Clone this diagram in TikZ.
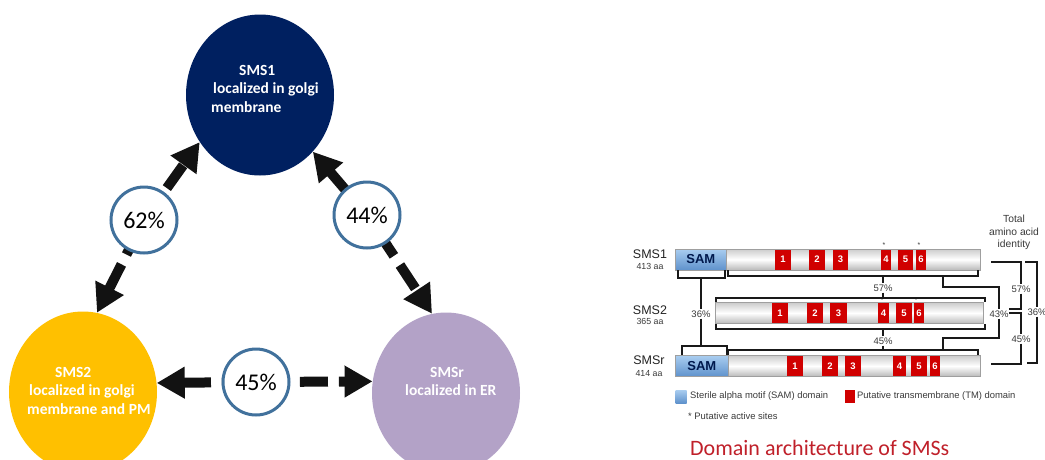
\documentclass[tikz,border=0pt]{standalone}
\usepackage{fontspec}
\setmainfont{Carlito}
\newfontfamily\figfont{Liberation Sans}
\usetikzlibrary{arrows.meta,shapes.geometric}
\definecolor{smsnavy}{HTML}{002060}
\definecolor{smsgold}{HTML}{FFC000}
\definecolor{smslilac}{HTML}{B3A2C7}
\definecolor{ringblue}{HTML}{41719C}
\definecolor{samhi}{HTML}{A9CDF0}
\definecolor{samlo}{HTML}{5F92CC}
\definecolor{tmred}{HTML}{D00000}
\definecolor{figgrey}{HTML}{3A3A3A}
\definecolor{titlered}{HTML}{C0202A}
\tikzset{
  bigcirc/.style  = {ellipse, minimum width=148pt, minimum height=161pt, inner sep=0pt},
  circtxt/.style  = {text=white, font=\fontsize{15.5}{18.5}\selectfont\bfseries, align=left,
                     inner sep=0pt, anchor=north west},
  biarrow/.style  = {{Triangle[length=28pt,width=30pt]}-{Triangle[length=28pt,width=30pt]},
                     line width=10pt, dash pattern=on 28pt off 11pt, draw=black!93},
  pct/.style      = {circle, draw=ringblue, line width=3pt, fill=white, minimum size=66pt,
                     inner sep=0pt, font=\fontsize{24}{24}\selectfont},
  bar/.style      = {rectangle, anchor=west, minimum height=21pt, inner sep=0pt, draw=gray!75,
                     line width=0.6pt, top color=gray!40, bottom color=gray!55, middle color=white},
  sam/.style      = {rectangle, anchor=west, minimum height=21pt, inner sep=0pt, draw=gray!75,
                     line width=0.6pt, top color=samhi, bottom color=samlo,
                     font=\figfont\bfseries\fontsize{13}{13}\selectfont, text=smsnavy!80!black},
  tm/.style       = {rectangle, minimum height=20pt, inner sep=0pt, fill=tmred, text=white,
                     font=\figfont\bfseries\fontsize{9.5}{9.5}\selectfont},
  brk/.style      = {line width=2pt, draw=black!90},
  pcttxt/.style   = {inner sep=1pt, text=figgrey, font=\figfont\fontsize{9.5}{9.5}\selectfont},
  protname/.style = {inner sep=0pt, text=figgrey!60!black, font=\figfont\fontsize{12.5}{12.5}\selectfont},
  aalen/.style    = {inner sep=0pt, text=figgrey, font=\figfont\fontsize{8.8}{8.8}\selectfont},
  legsq/.style    = {rectangle, minimum width=11pt, minimum height=13pt, inner sep=0pt},
  legtxt/.style   = {anchor=west, inner sep=0pt, text=figgrey, font=\figfont\fontsize{9.4}{9.4}\selectfont},
}
\begin{document}
\begin{tikzpicture}[x=1pt,y=-1pt]
  \useasboundingbox (0,0) rectangle (1045,459);
  \fill[white] (0,0) rectangle (1045,459);
  % localisation of the three synthases
  \node[bigcirc, fill=smsnavy] (sms1) at (260,95) {};
  \node[bigcirc, fill=smsgold] (sms2) at (83,392) {};
  \node[bigcirc, fill=smslilac] (smsr) at (446,393) {};
  \node[circtxt] (sms1txt) at ([xshift=-49pt,yshift=30pt]sms1.center) {\hspace*{28pt}SMS1\\\hspace*{2pt}localized in golgi\\membrane};
  \node[circtxt] (sms2txt) at ([xshift=-56pt,yshift=25pt]sms2.center) {\hspace*{28pt}SMS2\\\hspace*{2pt}localized in golgi\\membrane and PM};
  \node[circtxt] (smsrtxt) at ([xshift=-41pt,yshift=26pt]smsr.center) {\hspace*{25pt}SMSr\\localized in ER};
  % identity arrows (the rings sit on top)
  \coordinate (c62) at (144,220);
  \coordinate (c44) at (367,215);
  \coordinate (c45) at (256,382);
  \draw[biarrow] (sms2.80) -- (c62) -- (sms1.218);
  \draw[biarrow] (sms1.313) -- (c44) -- (smsr.100);
  \draw[biarrow] (sms2.7) -- (c45) -- (smsr.171);
  \node[pct] (p62) at (c62) {62\%};
  \node[pct] (p44) at (c44) {44\%};
  \node[pct] (p45) at (c45) {45\%};

  % domain architecture: protein bars
  \node[bar, minimum width=305pt] (bar1) at (675,259.5) {};
  \node[bar, minimum width=268pt] (bar2) at (715,313) {};
  \node[bar, minimum width=305pt] (bar3) at (675,366) {};
  \node[sam, minimum width=51pt] (sam1) at (675,259.5) {SAM};
  \node[sam, minimum width=53pt] (sam3) at (675,366) {SAM};
  \foreach \n/\x/\w in {1/783/16,2/817/16,3/840.5/15,4/886/10,5/905.5/15,6/921/10}
    \node[tm, minimum width=\w*1pt] (tmA\n) at (\x,259.5) {\n};
  \foreach \n/\x/\w in {1/780/16,2/815/16,3/838.5/17,4/883.5/11,5/904/16,6/919/10}
    \node[tm, minimum width=\w*1pt] (tmB\n) at (\x,313) {\n};
  \foreach \n/\x/\w in {1/795/16,2/830/16,3/853/16,4/899.5/13,5/919/16,6/935/10}
    \node[tm, minimum width=\w*1pt] (tmC\n) at (\x,366) {\n};
  \node[pcttxt, font=\figfont\fontsize{7}{7}\selectfont] (st1) at (884,245) {*};
  \node[pcttxt, font=\figfont\fontsize{7}{7}\selectfont] (st2) at (919,245) {*};
  \node[pcttxt, font=\figfont\fontsize{7}{7}\selectfont] (st3) at (882,300) {*};
  \node[pcttxt, font=\figfont\fontsize{7}{7}\selectfont] (st4) at (916,300) {*};
  \node[protname] (nm1) at (650,254) {SMS1};
  \node[aalen] (ln1) at (650,266) {413 aa};
  \node[protname] (nm2) at (650,310) {SMS2};
  \node[aalen] (ln2) at (650,321) {365 aa};
  \node[protname] (nm3) at (649,360) {SMSr};
  \node[aalen] (ln3) at (649,374) {414 aa};

  % identity values
  \node[pcttxt] (idA) at (701,314) {36\%};
  \node[pcttxt] (idB) at (883,288) {57\%};
  \node[pcttxt] (idC) at (883,341) {45\%};
  \node[pcttxt] (idD) at (999,314) {43\%};
  \node[pcttxt] (idE) at (1021,289) {57\%};
  \node[pcttxt] (idF) at (1021,339) {45\%};
  \node[pcttxt] (idG) at (1037,312) {36\%};
  \node[align=center, inner sep=0pt, text=figgrey, font=\figfont\fontsize{10.3}{12.5}\selectfont] (tot) at (1014,232.5) {Total\\amino acid\\identity};

  % brackets
  \draw[brk] (678,270) |- (725,278) -- (725,270);
  \draw[brk] (701,278) -- (idA);
  \draw[brk] (idA) -- (701,346);
  \draw[brk] (682,355) |- (727,346) -- (727,355);
  \draw[brk] (728,270) |- (978,276) -- (978,270);
  \draw[brk] (883,276) -- (idB);
  \draw[brk] (idB) -- (883,298);
  \draw[brk] (716,302) |- (985,298) -- (985,302);
  \draw[brk] (716,324) |- (985,329) -- (985,324);
  \draw[brk] (883,329) -- (idC);
  \draw[brk] (idC) -- (883,350);
  \draw[brk] (728,355) |- (978,350) -- (978,355);
  \draw[brk] (943,276) |- (999,287) -- (idD);
  \draw[brk] (idD) -- (999,338) -| (943,350);
  \draw[brk] (991,262) -| (idE);
  \draw[brk] (idE) |- (1009,309);
  \draw[brk] (1009,313) -| (idF);
  \draw[brk] (idF) |- (991,364);
  \draw[brk] (1025,262) -| (idG);
  \draw[brk] (idG) |- (1027,363);

  % legend and caption
  \node[legsq, top color=samhi, bottom color=samlo] (legsam) at (681,396.5) {};
  \node[legtxt] (legsamtxt) at (690,396.5) {Sterile alpha motif (SAM) domain};
  \node[legsq, fill=tmred, minimum width=10pt] (legtm) at (850,396.5) {};
  \node[legtxt] (legtmtxt) at (857,396.5) {Putative transmembrane (TM) domain};
  \node[legtxt] (legast) at (688,416) {* Putative active sites};
  \node[anchor=base west, inner sep=0pt, text=titlered, font=\fontsize{22}{22}\selectfont] (ttl) at (690,455) {Domain architecture of SMSs};
\end{tikzpicture}
\end{document}
